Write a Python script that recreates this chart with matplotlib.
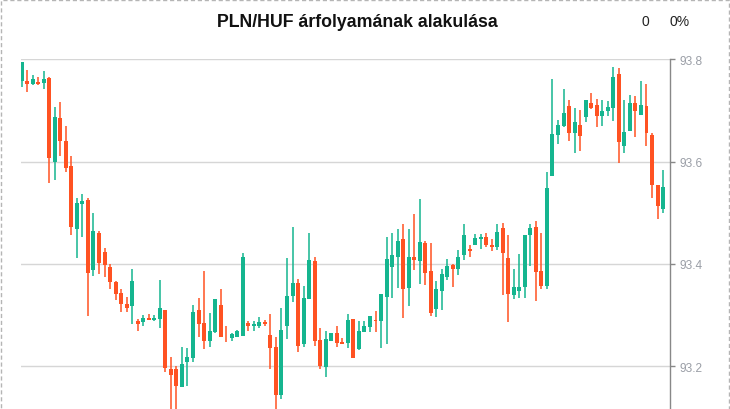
import numpy as np
import matplotlib.pyplot as plt
from matplotlib.patches import Rectangle

plt.rcParams['font.family'] = ['Liberation Sans', 'DejaVu Sans']

# PLN/HUF daily candles
opens = [93.758, 93.757, 93.752, 93.756, 93.754, 93.763, 93.600, 93.685, 93.640, 93.591,
         93.469, 93.518, 93.525, 93.389, 93.460, 93.423, 93.394, 93.364, 93.343, 93.321,
         93.318, 93.288, 93.286, 93.294, 93.291, 93.292, 93.310, 93.194, 93.194, 93.160,
         93.209, 93.217, 93.310, 93.284, 93.250, 93.267, 93.320, 93.263, 93.256, 93.258,
         93.260, 93.284, 93.279, 93.279, 93.286, 93.261, 93.237, 93.144, 93.279, 93.338,
         93.363, 93.244, 93.332, 93.405, 93.252, 93.199, 93.250, 93.265, 93.247, 93.246,
         93.292, 93.234, 93.267, 93.277, 93.289, 93.289, 93.336, 93.393, 93.413, 93.449,
         93.353, 93.413, 93.406, 93.441, 93.386, 93.312, 93.348, 93.375, 93.398, 93.391,
         93.418, 93.429, 93.437, 93.449, 93.453, 93.437, 93.434, 93.470, 93.411, 93.340,
         93.348, 93.355, 93.457, 93.472, 93.386, 93.357, 93.572, 93.653, 93.670, 93.709,
         93.655, 93.672, 93.688, 93.715, 93.711, 93.690, 93.698, 93.705, 93.771, 93.631,
         93.659, 93.715, 93.692, 93.709, 93.652, 93.554, 93.508]
highs = [93.795, 93.779, 93.769, 93.765, 93.777, 93.765, 93.707, 93.717, 93.670, 93.611,
         93.529, 93.537, 93.529, 93.499, 93.464, 93.431, 93.400, 93.366, 93.351, 93.335,
         93.390, 93.292, 93.300, 93.302, 93.300, 93.368, 93.310, 93.218, 93.200, 93.237,
         93.235, 93.320, 93.333, 93.386, 93.304, 93.331, 93.351, 93.278, 93.265, 93.271,
         93.421, 93.288, 93.288, 93.296, 93.290, 93.302, 93.257, 93.314, 93.411, 93.472,
         93.370, 93.357, 93.460, 93.413, 93.274, 93.269, 93.265, 93.278, 93.255, 93.302,
         93.292, 93.288, 93.288, 93.298, 93.308, 93.341, 93.452, 93.460, 93.468, 93.478,
         93.468, 93.497, 93.527, 93.445, 93.441, 93.366, 93.390, 93.409, 93.400, 93.427,
         93.478, 93.437, 93.458, 93.458, 93.460, 93.449, 93.478, 93.480, 93.456, 93.390,
         93.419, 93.456, 93.478, 93.484, 93.460, 93.580, 93.762, 93.681, 93.742, 93.720,
         93.705, 93.701, 93.720, 93.734, 93.722, 93.720, 93.718, 93.785, 93.783, 93.720,
         93.730, 93.728, 93.758, 93.752, 93.656, 93.554, 93.584]
lows = [93.745, 93.737, 93.749, 93.749, 93.741, 93.559, 93.565, 93.610, 93.580, 93.457,
        93.412, 93.453, 93.299, 93.377, 93.381, 93.375, 93.350, 93.330, 93.306, 93.306,
        93.283, 93.269, 93.279, 93.290, 93.288, 93.275, 93.189, 93.110, 93.110, 93.160,
        93.162, 93.209, 93.258, 93.234, 93.238, 93.265, 93.258, 93.248, 93.250, 93.258,
        93.260, 93.269, 93.269, 93.275, 93.279, 93.195, 93.110, 93.136, 93.254, 93.326,
        93.228, 93.238, 93.332, 93.240, 93.195, 93.179, 93.250, 93.238, 93.244, 93.236,
        93.217, 93.232, 93.267, 93.267, 93.267, 93.236, 93.244, 93.334, 93.353, 93.295,
        93.318, 93.389, 93.361, 93.359, 93.299, 93.297, 93.310, 93.369, 93.355, 93.379,
        93.408, 93.414, 93.437, 93.430, 93.434, 93.426, 93.428, 93.340, 93.287, 93.332,
        93.334, 93.334, 93.396, 93.328, 93.351, 93.351, 93.572, 93.635, 93.668, 93.641,
        93.617, 93.621, 93.678, 93.702, 93.668, 93.670, 93.690, 93.680, 93.598, 93.617,
        93.659, 93.649, 93.692, 93.631, 93.529, 93.488, 93.500]
closes = [93.795, 93.752, 93.762, 93.752, 93.762, 93.608, 93.687, 93.641, 93.588, 93.473,
          93.519, 93.523, 93.383, 93.464, 93.402, 93.398, 93.365, 93.342, 93.322, 93.314,
          93.366, 93.283, 93.294, 93.291, 93.294, 93.314, 93.197, 93.183, 93.162, 93.204,
          93.218, 93.306, 93.283, 93.250, 93.269, 93.331, 93.258, 93.262, 93.263, 93.269,
          93.413, 93.279, 93.282, 93.286, 93.283, 93.236, 93.144, 93.271, 93.337, 93.363,
          93.240, 93.333, 93.407, 93.250, 93.201, 93.253, 93.265, 93.246, 93.244, 93.290,
          93.217, 93.269, 93.278, 93.298, 93.288, 93.341, 93.409, 93.417, 93.445, 93.351,
          93.413, 93.408, 93.443, 93.383, 93.304, 93.351, 93.380, 93.396, 93.391, 93.413,
          93.456, 93.426, 93.451, 93.453, 93.436, 93.434, 93.462, 93.422, 93.342, 93.355,
          93.355, 93.456, 93.470, 93.385, 93.357, 93.548, 93.654, 93.672, 93.695, 93.655,
          93.677, 93.651, 93.720, 93.705, 93.690, 93.699, 93.707, 93.765, 93.639, 93.658,
          93.715, 93.698, 93.711, 93.655, 93.555, 93.514, 93.550]

title = 'PLN/HUF árfolyamának alakulása'
change_abs = '0'
change_pct = '0%'
yticks = [93.2, 93.4, 93.6, 93.8]

up_color = '#15b58f'
down_color = '#ff5222'

W, H = 730, 410
fig = plt.figure(figsize=(W / 100, H / 100), dpi=100)

# axes placed in pixel terms: left 21, right 670, top at the 93.8 line, bottom at image edge
ax_top = 59.8
ax = fig.add_axes([21 / W, 0, (670 - 21) / W, 1 - ax_top / H])

x = np.arange(len(opens))
o = np.array(opens)
c = np.array(closes)
up = c >= o
colors = np.where(up, up_color, down_color)

ax.vlines(x, lows, highs, colors=colors, linewidth=1.1, zorder=3)
bottoms = np.minimum(o, c)
heights = np.maximum(np.abs(c - o), 0.0015)
ax.bar(x, heights, bottom=bottoms, width=0.72, color=colors, linewidth=0, zorder=4)

ppu = 511.5  # pixels per price unit
ax.set_ylim(93.8 - (H - ax_top) / ppu + 0.001, 93.8 + 0.001)
ax.set_xlim(-0.1, 117.25)

ax.yaxis.tick_right()
ax.set_yticks(yticks)
ax.set_yticklabels([f'{t:.1f}' for t in yticks])
ax.tick_params(axis='y', colors='#888888', labelcolor='#9a9ea6', labelsize=8.6,
               length=3.5, width=1, pad=3.5, direction='out')
ax.set_xticks([])
ax.grid(axis='y', color='#d6d6d6', linewidth=1, zorder=0)
ax.set_axisbelow(True)
for side in ['left', 'top', 'bottom']:
    ax.spines[side].set_visible(False)
ax.spines['right'].set_color('#888888')
ax.spines['right'].set_linewidth(1)

fig.text(357 / W, 1 - 26.7 / H, title, ha='center', va='baseline',
         fontsize=12.8, fontweight='bold', color='#111111')
fig.text(642 / W, 1 - 26.3 / H, change_abs, ha='left', va='baseline',
         fontsize=10, color='#222222')
fig.text(670 / W, 1 - 26.3 / H, change_pct, ha='left', va='baseline',
         fontsize=10, color='#222222')

# dashed frame round the widget
fig.patches.append(Rectangle((0.6 / W, -0.05), 728.6 / W, 1.05 - 0.6 / H,
                             transform=fig.transFigure, fill=False,
                             edgecolor='#b5b5b5', linewidth=1,
                             linestyle=(0, (3, 2))))

fig.savefig('out.png', dpi=100)
